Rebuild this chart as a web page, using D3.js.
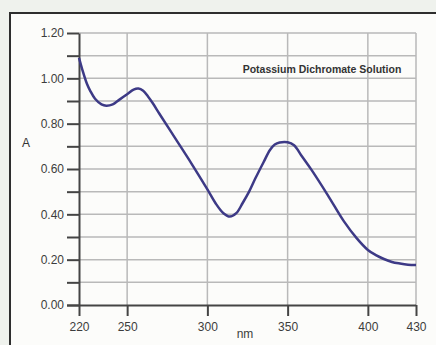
<!DOCTYPE html>
<html><head><meta charset="utf-8">
<script src="https://cdn.jsdelivr.net/npm/d3@7/dist/d3.min.js"></script>
<style>html,body{margin:0;padding:0;background:#eff2ed;}svg{display:block;}</style>
</head><body><svg id="c" width="436" height="345"></svg>
<script>
const wavelengths = [220,222,225,227,230,234,237,241,245,250,254,257,260,263,266,270,280,290,300,305,310,314,318,322,326,330,335,339,342,345,350,354,359,365,375,385,393,400,405,410,415,420,425,430];
const absorbance = [1.09,1.04,0.975,0.945,0.91,0.885,0.879,0.885,0.905,0.93,0.95,0.955,0.945,0.92,0.89,0.845,0.735,0.625,0.51,0.45,0.405,0.39,0.405,0.45,0.50,0.56,0.63,0.684,0.708,0.717,0.718,0.705,0.655,0.595,0.485,0.37,0.295,0.243,0.22,0.203,0.19,0.183,0.178,0.176];
const xTicks = [220,250,300,350,400,430];
const yMajor = [0,0.2,0.4,0.6,0.8,1.0,1.2];
const yMinor = [0,0.1,0.2,0.3,0.4,0.5,0.6,0.7,0.8,0.9,1.0,1.1,1.2];
const title = "Potassium Dichromate Solution";

const svg = d3.select("#c");
const FONT = "Liberation Sans, Arial, sans-serif";
// panel
svg.append("rect").attr("x",10).attr("y",13).attr("width",426).attr("height",332).attr("fill","#fcfcfa");
svg.append("path").attr("d","M10,345V13H436").attr("fill","none").attr("stroke","#2e2e2e").attr("stroke-width",2);

const x = d3.scaleLinear().domain([220,430]).range([79,416]);
const y = d3.scaleLinear().domain([0,1.2]).range([305,33]);

// grid
svg.append("g").selectAll("line").data(yMinor.slice(1)).join("line")
  .attr("x1",x(220)).attr("x2",x(430)).attr("y1",d=>y(d)).attr("y2",d=>y(d))
  .attr("stroke","#b9b9b9").attr("stroke-width",1.5);
svg.append("g").selectAll("line").data(xTicks.slice(1)).join("line")
  .attr("x1",d=>x(d)).attr("x2",d=>x(d)).attr("y1",y(0)).attr("y2",y(1.2))
  .attr("stroke","#b9b9b9").attr("stroke-width",1.5);

// y axis
const yAxis = svg.append("g").attr("transform",`translate(${x(220)},0)`)
  .call(d3.axisLeft(y).tickValues(yMinor).tickSize(12).tickSizeOuter(0)
    .tickFormat(d=> yMajor.some(v=>Math.abs(v-d)<1e-9) ? d3.format(".2f")(d) : ""));
yAxis.select(".domain").attr("stroke","#444").attr("stroke-width",2);
yAxis.selectAll(".tick line").attr("stroke","#444").attr("stroke-width",2);
yAxis.selectAll(".tick text").attr("x",-15).attr("fill","#3c3c3c")
  .style("font-family",FONT).style("font-size","12px");

// x axis
const xAxis = svg.append("g").attr("transform",`translate(0,${y(0)})`)
  .call(d3.axisBottom(x).tickValues(xTicks).tickSize(11).tickSizeOuter(0).tickFormat(d3.format("d")));
xAxis.select(".domain").attr("stroke","#444").attr("stroke-width",2).attr("d",`M67,0.5H${x(430)}`);
xAxis.selectAll(".tick line").attr("stroke","#444").attr("stroke-width",2);
xAxis.selectAll(".tick text").attr("y",17).attr("fill","#3c3c3c")
  .style("font-family",FONT).style("font-size","12px");

// curve
const line = d3.line().x((d,i)=>x(wavelengths[i])).y(d=>y(d)).curve(d3.curveCatmullRom.alpha(0.5));
svg.append("path").datum(absorbance).attr("d",line).attr("fill","none")
  .attr("stroke","#3d3a86").attr("stroke-width",2.5).attr("stroke-linejoin","round");

// labels
svg.append("text").attr("x",322).attr("y",73).attr("text-anchor","middle")
  .style("font-family",FONT).style("font-size","10.5px").style("font-weight","bold")
  .attr("fill","#333").text(title);
svg.append("text").attr("x",26).attr("y",147).attr("text-anchor","middle")
  .style("font-family",FONT).style("font-size","12px").attr("fill","#333").text("A");
svg.append("text").attr("x",245).attr("y",338).attr("text-anchor","middle")
  .style("font-family",FONT).style("font-size","12px").attr("fill","#3c3c3c").text("nm");
</script></body></html>
